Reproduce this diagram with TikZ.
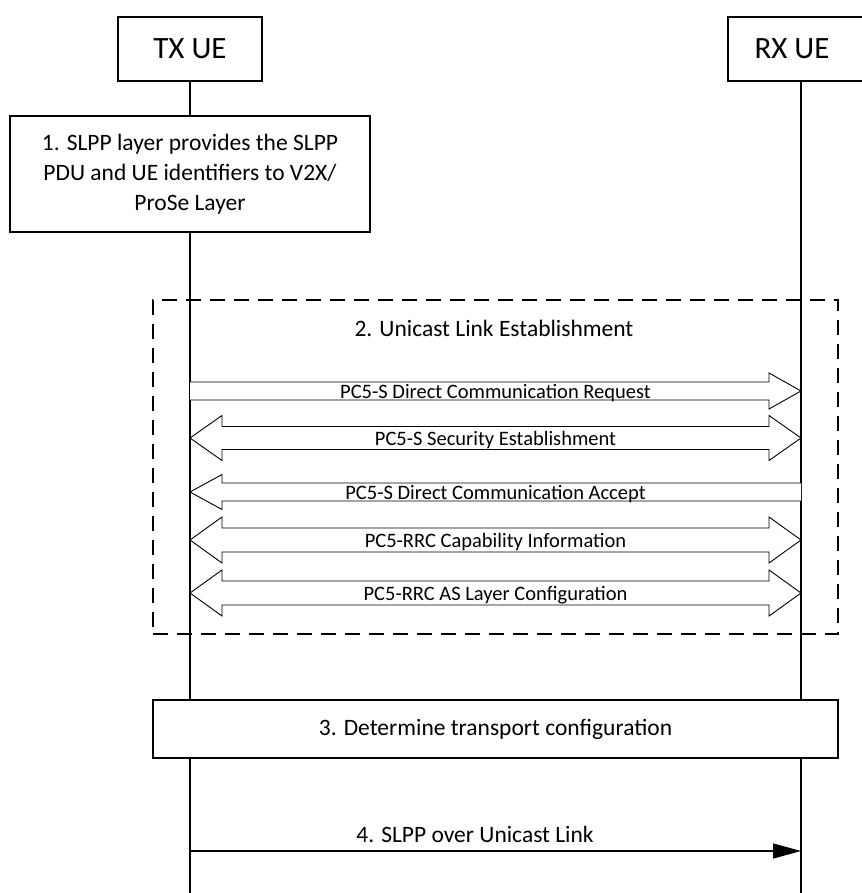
\documentclass[tikz,border=0pt]{standalone}
\usepackage{fontspec}
\setmainfont{Carlito}
\usetikzlibrary{arrows.meta,calc}
\begin{document}
\begin{tikzpicture}[x=1pt,y=-1pt,
  box/.style={draw,line width=1.3pt,fill=white,inner sep=0pt},
  life/.style={line width=1.5pt},
  fat/.style={draw,line width=0.9pt,fill=white,line join=miter},
  lbl/.style={font=\fontsize{20.5}{24}\selectfont,inner sep=0pt,anchor=base},
  big/.style={font=\fontsize{23.5}{30}\selectfont},
  dashbox/.style={draw,line width=1.5pt,dash pattern=on 15pt off 9pt}
]
\useasboundingbox (0,0) rectangle (861,893);
% lifeline ends
\coordinate (txend) at (190,893);
\coordinate (rxend) at (801,893);
% participant boxes
\node[box,minimum width=144pt,minimum height=64pt,font=\fontsize{31}{36}\selectfont] (tx) at (190,49) {TX UE};
\node[box,minimum width=146pt,minimum height=64pt,font=\fontsize{31}{36}\selectfont] (rx) at (801,49) {};
\node[font=\fontsize{31}{36}\selectfont,inner sep=0pt] (rxlbl) at (792,49) {RX UE};
% lifelines
\draw[life] (tx.south) -- (txend);
\draw[life] (rx.south) -- (rxend);
% box 1
\node[box,minimum width=360pt,minimum height=116pt,align=center,big] (s1) at (190,174)
 {1. SLPP layer provides the SLPP\\PDU and UE identifiers to V2X/\\ProSe Layer};
% dashed frame
\node[dashbox,minimum width=685pt,minimum height=334pt,inner sep=0pt] (frame) at (495.5,467) {};
\node[big,inner sep=0pt] (title) at (494,328) {2. Unicast Link Establishment};
% lifeline points for messages
\foreach \k/\yy in {1/391,2/438,3/492,4/540,5/593}{
  \coordinate (t\k) at (190,\yy);
  \coordinate (r\k) at (801,\yy);
}
\def\hl{32pt}
% 1: right arrow
\draw[fat] let \p1=(t1), \p2=(r1) in
  (\x1,\y1-9pt) -- (\x2-\hl,\y2-9pt) -- (\x2-\hl,\y2-18pt) -- (\x2,\y2)
  -- (\x2-\hl,\y2+18pt) -- (\x2-\hl,\y2+9pt) -- (\x1,\y1+9pt);
\node[lbl] (m1) at ($(t1)!0.5!(r1)+(0,7)$) {PC5-S Direct Communication Request};
% 2: double arrow
\draw[fat] let \p1=(t2), \p2=(r2) in
  (\x1,\y1) -- (\x1+\hl,\y1+22.5pt) -- (\x1+\hl,\y1+11.5pt) -- (\x2-\hl,\y2+11.5pt)
  -- (\x2-\hl,\y2+22.5pt) -- (\x2,\y2) -- (\x2-\hl,\y2-22.5pt) -- (\x2-\hl,\y2-11.5pt)
  -- (\x1+\hl,\y1-11.5pt) -- (\x1+\hl,\y1-22.5pt) -- cycle;
\node[lbl] (m2) at ($(t2)!0.5!(r2)+(0,7)$) {PC5-S Security Establishment};
% 3: left arrow
\draw[fat] let \p1=(r3), \p2=(t3) in
  (\x1,\y1-9pt) -- (\x2+\hl,\y2-9pt) -- (\x2+\hl,\y2-17.5pt) -- (\x2,\y2)
  -- (\x2+\hl,\y2+17.5pt) -- (\x2+\hl,\y2+9pt) -- (\x1,\y1+9pt);
\node[lbl] (m3) at ($(t3)!0.5!(r3)+(0,7)$) {PC5-S Direct Communication Accept};
% 4: double arrow
\draw[fat] let \p1=(t4), \p2=(r4) in
  (\x1,\y1) -- (\x1+\hl,\y1+23pt) -- (\x1+\hl,\y1+12pt) -- (\x2-\hl,\y2+12pt)
  -- (\x2-\hl,\y2+23pt) -- (\x2,\y2) -- (\x2-\hl,\y2-23pt) -- (\x2-\hl,\y2-12pt)
  -- (\x1+\hl,\y1-12pt) -- (\x1+\hl,\y1-23pt) -- cycle;
\node[lbl] (m4) at ($(t4)!0.5!(r4)+(0,7)$) {PC5-RRC Capability Information};
% 5: double arrow
\draw[fat] let \p1=(t5), \p2=(r5) in
  (\x1,\y1) -- (\x1+\hl,\y1+23pt) -- (\x1+\hl,\y1+12pt) -- (\x2-\hl,\y2+12pt)
  -- (\x2-\hl,\y2+23pt) -- (\x2,\y2) -- (\x2-\hl,\y2-23pt) -- (\x2-\hl,\y2-12pt)
  -- (\x1+\hl,\y1-12pt) -- (\x1+\hl,\y1-23pt) -- cycle;
\node[lbl] (m5) at ($(t5)!0.5!(r5)+(0,7)$) {PC5-RRC AS Layer Configuration};
% box 3
\node[box,minimum width=685pt,minimum height=58pt,big] (s3) at (495.5,729) {3. Determine transport configuration};
% step 4
\coordinate (t6) at (190,851);
\coordinate (r6) at (801,851);
\draw[line width=1.3pt,-{Triangle[length=28pt,width=15pt]}] (t6) -- (r6);
\node[big,inner sep=0pt,anchor=base] (m6) at (475,842) {4. SLPP over Unicast Link};
\end{tikzpicture}
\end{document}
